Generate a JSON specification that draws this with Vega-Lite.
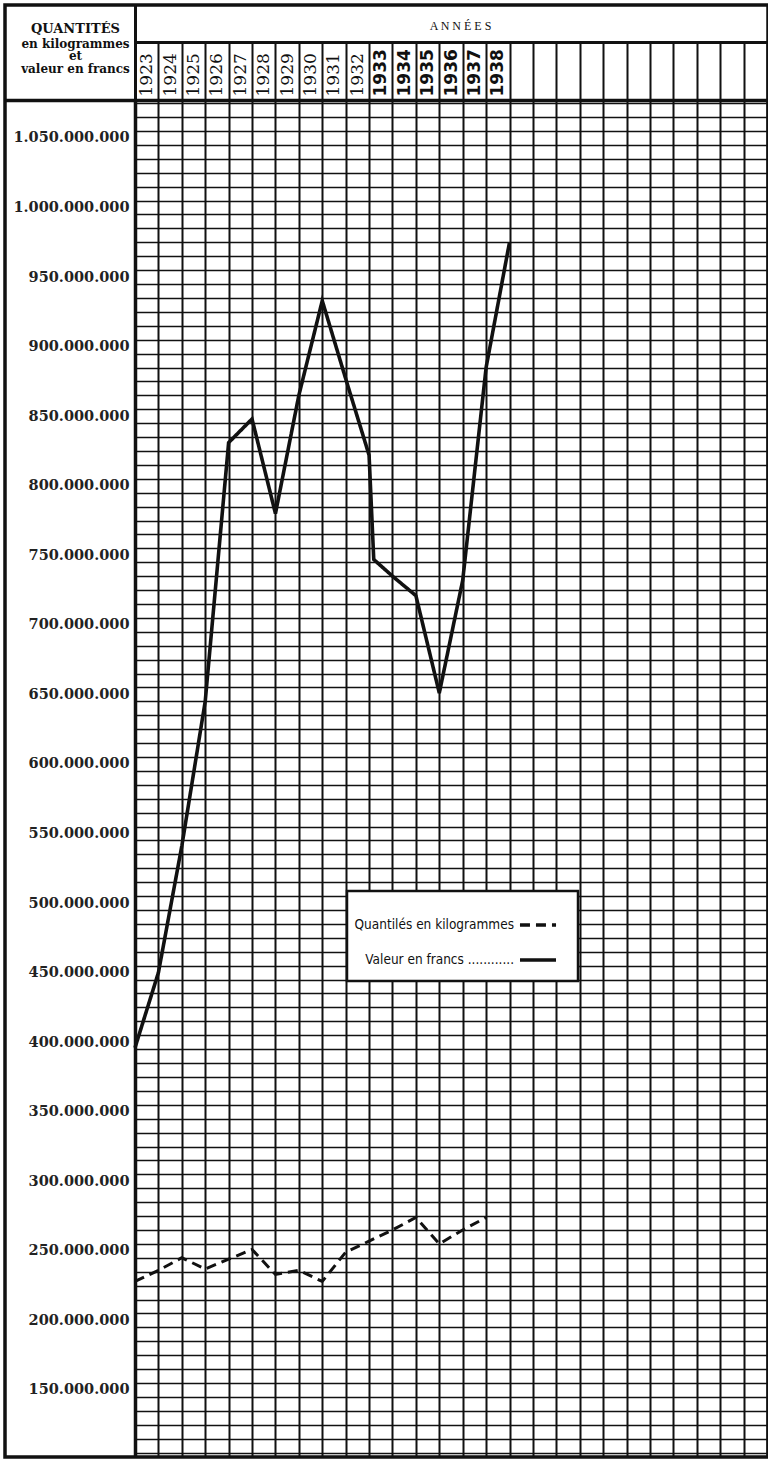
{
  "$schema": "https://vega.github.io/schema/vega-lite/v6.json",
  "width": 763,
  "height": 1452,
  "autosize": {"type": "none"},
  "padding": {"left": 5, "top": 5, "right": 0, "bottom": 4},
  "background": "white",
  "config": {"view": {"stroke": "#111", "strokeWidth": 3.5}, "legend": {"strokeWidth": 2.5}},
  "datasets": {
    "valeur": [
      {"t": 1923, "v": 396000000, "serie": "Valeur en francs ............"},
      {"t": 1924, "v": 450000000, "serie": "Valeur en francs ............"},
      {"t": 1925, "v": 541000000, "serie": "Valeur en francs ............"},
      {"t": 1926, "v": 645000000, "serie": "Valeur en francs ............"},
      {"t": 1927, "v": 831000000, "serie": "Valeur en francs ............"},
      {"t": 1928, "v": 848000000, "serie": "Valeur en francs ............"},
      {"t": 1929, "v": 780000000, "serie": "Valeur en francs ............"},
      {"t": 1930, "v": 865000000, "serie": "Valeur en francs ............"},
      {"t": 1931, "v": 933000000, "serie": "Valeur en francs ............"},
      {"t": 1932, "v": 877000000, "serie": "Valeur en francs ............"},
      {"t": 1933, "v": 822000000, "serie": "Valeur en francs ............"},
      {"t": 1933.2, "v": 747000000, "serie": "Valeur en francs ............"},
      {"t": 1934, "v": 735000000, "serie": "Valeur en francs ............"},
      {"t": 1935, "v": 721000000, "serie": "Valeur en francs ............"},
      {"t": 1936, "v": 651000000, "serie": "Valeur en francs ............"},
      {"t": 1937, "v": 732000000, "serie": "Valeur en francs ............"},
      {"t": 1938, "v": 885000000, "serie": "Valeur en francs ............"},
      {"t": 1939, "v": 975000000, "serie": "Valeur en francs ............"}
    ],
    "quantites": [
      {"t": 1923, "v": 228000000, "serie": "Quantilés en kilogrammes"},
      {"t": 1924, "v": 236000000, "serie": "Quantilés en kilogrammes"},
      {"t": 1925, "v": 245000000, "serie": "Quantilés en kilogrammes"},
      {"t": 1926, "v": 237000000, "serie": "Quantilés en kilogrammes"},
      {"t": 1927, "v": 244000000, "serie": "Quantilés en kilogrammes"},
      {"t": 1928, "v": 251000000, "serie": "Quantilés en kilogrammes"},
      {"t": 1929, "v": 233000000, "serie": "Quantilés en kilogrammes"},
      {"t": 1930, "v": 236000000, "serie": "Quantilés en kilogrammes"},
      {"t": 1931, "v": 228000000, "serie": "Quantilés en kilogrammes"},
      {"t": 1932, "v": 249000000, "serie": "Quantilés en kilogrammes"},
      {"t": 1933, "v": 257000000, "serie": "Quantilés en kilogrammes"},
      {"t": 1934, "v": 265000000, "serie": "Quantilés en kilogrammes"},
      {"t": 1935, "v": 274000000, "serie": "Quantilés en kilogrammes"},
      {"t": 1936, "v": 255000000, "serie": "Quantilés en kilogrammes"},
      {"t": 1937, "v": 265000000, "serie": "Quantilés en kilogrammes"},
      {"t": 1938, "v": 274000000, "serie": "Quantilés en kilogrammes"}
    ]
  },
  "resolve": {"axis": {"x": "independent", "y": "independent"}},
  "layer": [
    {
      "data": {"name": "valeur"},
      "mark": {"type": "line", "color": "#111", "strokeWidth": 3.6},
      "encoding": {
        "x": {
          "field": "t", "type": "quantitative",
          "scale": {"domain": [1923, 1950], "range": [130, 762], "nice": false, "zero": false},
          "axis": {
            "orient": "top", "offset": -37,
            "values": [1923,1924,1925,1926,1927,1928,1929,1930,1931,1932,1933,1934,1935,1936,1937,1938,1939,1940,1941,1942,1943,1944,1945,1946,1947,1948,1949,1950],
            "labels": false, "ticks": true, "tickSize": -1415, "tickColor": "#111", "tickWidth": 2,
            "domain": true, "domainColor": "#111", "domainWidth": 3, "grid": false, "title": null
          }
        },
        "y": {
          "field": "v", "type": "quantitative",
          "scale": {"domain": [101800000, 1077300000], "range": [1452, 95], "nice": false, "zero": false},
          "axis": {
            "orient": "left", "offset": -130,
            "values": [105000000,115000000,125000000,135000000,145000000,155000000,165000000,175000000,185000000,195000000,205000000,215000000,225000000,235000000,245000000,255000000,265000000,275000000,285000000,295000000,305000000,315000000,325000000,335000000,345000000,355000000,365000000,375000000,385000000,395000000,405000000,415000000,425000000,435000000,445000000,455000000,465000000,475000000,485000000,495000000,505000000,515000000,525000000,535000000,545000000,555000000,565000000,575000000,585000000,595000000,605000000,615000000,625000000,635000000,645000000,655000000,665000000,675000000,685000000,695000000,705000000,715000000,725000000,735000000,745000000,755000000,765000000,775000000,785000000,795000000,805000000,815000000,825000000,835000000,845000000,855000000,865000000,875000000,885000000,895000000,905000000,915000000,925000000,935000000,945000000,955000000,965000000,975000000,985000000,995000000,1005000000,1015000000,1025000000,1035000000,1045000000,1055000000,1065000000,1075000000],
            "labels": false, "ticks": true, "tickSize": -632, "tickColor": "#111", "tickWidth": 1.6,
            "domain": false, "grid": false,
            "title": ["en kilogrammes", "et", "valeur en francs"],
            "titleX": -60, "titleY": 42, "titleAngle": 0, "titleAlign": "center", "titleBaseline": "alphabetic",
            "titleFont": "DejaVu Serif", "titleFontSize": 12, "titleFontWeight": "bold", "titleLineHeight": 12.5, "titleColor": "#111"
          }
        },
        "strokeDash": {
          "field": "serie", "type": "nominal",
          "scale": {"domain": ["Quantilés en kilogrammes", "Valeur en francs ............"], "range": [[10, 6], [1, 0]]},
          "legend": {
            "title": null, "orient": "none", "legendX": 342, "legendY": 886,
            "fillColor": "white", "strokeColor": "#111", "padding": 14,
            "labelFont": "DejaVu Sans Condensed, Liberation Sans Narrow, DejaVu Sans", "labelFontSize": 13.5, "labelColor": "#111", "labelLimit": 400,
            "labelAlign": "right",
            "symbolType": "stroke", "symbolStrokeWidth": 3.5, "symbolStrokeColor": "#111", "symbolSize": 1300,
            "symbolOffset": 157, "labelOffset": -44, "rowPadding": 8
          }
        }
      }
    },
    {
      "data": {"name": "quantites"},
      "mark": {"type": "line", "color": "#111", "strokeWidth": 3},
      "encoding": {
        "x": {
          "field": "t", "type": "quantitative",
          "scale": {"domain": [1923, 1950], "range": [130, 762], "nice": false, "zero": false},
          "axis": {
            "orient": "top", "offset": -95,
            "values": [1923.5,1924.5,1925.5,1926.5,1927.5,1928.5,1929.5,1930.5,1931.5,1932.5,1933.5,1934.5,1935.5,1936.5,1937.5,1938.5],
            "labelExpr": "'' + floor(datum.value)",
            "labelAngle": -90, "labelAlign": "left", "labelBaseline": "middle", "labelPadding": 4,
            "labelOverlap": false, "labelFlush": false,
            "labelFont": {"condition": {"test": "datum.value > 1933", "value": "DejaVu Sans"}, "value": "DejaVu Serif"},
            "labelFontWeight": {"condition": {"test": "datum.value > 1933", "value": "bold"}, "value": "normal"},
            "labelFontSize": 17, "labelColor": "#111",
            "ticks": false, "domain": true, "domainColor": "#111", "domainWidth": 3.5, "grid": false,
            "title": "A  N  N  É  E  S", "titleX": 455, "titleY": -75, "titleAlign": "center", "titleBaseline": "middle",
            "titleFont": "Liberation Serif", "titleFontSize": 12, "titleFontWeight": "normal", "titleColor": "#111"
          }
        },
        "y": {
          "field": "v", "type": "quantitative",
          "scale": {"domain": [101800000, 1077300000], "range": [1452, 95], "nice": false, "zero": false},
          "axis": {
            "orient": "left", "offset": -130,
            "values": [150000000,200000000,250000000,300000000,350000000,400000000,450000000,500000000,550000000,600000000,650000000,700000000,750000000,800000000,850000000,900000000,950000000,1000000000,1050000000],
            "labelExpr": "replace(format(datum.value, ','), regexp(',', 'g'), '.')",
            "ticks": false, "labelPadding": 6, "labelOverlap": false, "labelFlush": false,
            "labelFont": "DejaVu Serif", "labelFontWeight": "bold", "labelFontSize": 14.5, "labelColor": "#222",
            "labelAlign": "right", "labelBaseline": "middle",
            "domain": true, "domainColor": "#111", "domainWidth": 3.5, "grid": false,
            "title": "QUANTITÉS", "titleX": -60, "titleY": 27, "titleAngle": 0, "titleAlign": "center", "titleBaseline": "alphabetic",
            "titleFont": "DejaVu Serif", "titleFontSize": 13, "titleFontWeight": "bold", "titleColor": "#111"
          }
        },
        "strokeDash": {
          "field": "serie", "type": "nominal",
          "scale": {"domain": ["Quantilés en kilogrammes", "Valeur en francs ............"], "range": [[10, 6], [1, 0]]}
        }
      }
    },
    {
      "data": {"name": "quantites"},
      "mark": {"type": "line", "opacity": 0},
      "encoding": {
        "x": {
          "field": "t", "type": "quantitative",
          "scale": {"domain": [1923, 1950], "range": [130, 762], "nice": false, "zero": false},
          "axis": {
            "orient": "top", "offset": 0, "values": [1923],
            "labels": false, "ticks": true, "tickSize": -95, "tickColor": "#111", "tickWidth": 3,
            "domain": false, "grid": false, "title": null
          }
        },
        "y": {
          "field": "v", "type": "quantitative",
          "scale": {"domain": [101800000, 1077300000], "range": [1452, 95], "nice": false, "zero": false},
          "axis": {
            "orient": "left", "offset": 0, "values": [1077300000],
            "labels": false, "ticks": true, "tickSize": -130, "tickColor": "#111", "tickWidth": 3.5,
            "domain": false, "grid": false, "title": null
          }
        }
      }
    }
  ]
}
